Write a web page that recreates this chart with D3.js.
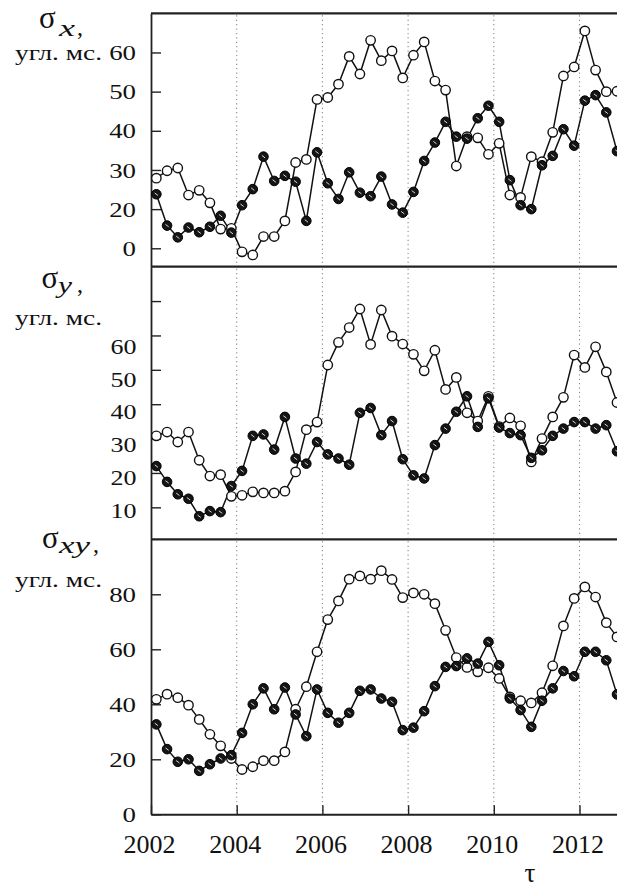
<!DOCTYPE html>
<html>
<head>
<meta charset="utf-8">
<script src="https://cdn.jsdelivr.net/npm/d3@7"></script>
<style>
  body { margin: 0; background: #fff; }
  svg { display: block; }
  svg text { font-family: "Liberation Serif", "Times New Roman", serif; fill: #111; }
</style>
</head>
<body>
<svg id="chart" width="617" height="889"></svg>
<script>
// Quarterly epochs (decimal years, middle of each quarter)
const quarters = [
  2002.125, 2002.375, 2002.625, 2002.875, 2003.125, 2003.375, 2003.625, 2003.875,
  2004.125, 2004.375, 2004.625, 2004.875, 2005.125, 2005.375, 2005.625, 2005.875,
  2006.125, 2006.375, 2006.625, 2006.875, 2007.125, 2007.375, 2007.625, 2007.875,
  2008.125, 2008.375, 2008.625, 2008.875, 2009.125, 2009.375, 2009.625, 2009.875,
  2010.125, 2010.375, 2010.625, 2010.875, 2011.125, 2011.375, 2011.625, 2011.875,
  2012.125, 2012.375, 2012.625, 2012.875
];

// sigma_x, mas
const sigmaXOpen = [
  27.9, 29.8, 30.5, 23.6, 24.8, 21.6, 14.9, 15.1, 9.1, 8.3, 13.0, 13.0, 17.0, 31.9, 32.7, 48.0,
  48.5, 51.9, 59.0, 54.5, 63.1, 57.9, 60.4, 53.5, 59.3, 62.7, 52.7, 50.4, 31.0, 38.5, 38.2, 34.0,
  36.8, 23.6, 23.0, 33.4, 32.1, 39.6, 54.0, 56.3, 65.5, 55.5, 50.0, 50.1
];
const sigmaXFilled = [
  23.8, 15.8, 12.8, 15.3, 14.1, 15.5, 18.3, 14.0, 21.0, 25.1, 33.4, 27.2, 28.5, 27.0, 17.0, 34.5,
  26.6, 22.6, 29.4, 24.2, 23.3, 28.3, 21.2, 19.1, 24.4, 32.3, 37.0, 42.3, 38.5, 38.0, 43.2, 46.4,
  42.3, 27.4, 21.0, 20.0, 31.2, 33.6, 40.4, 36.2, 47.7, 49.1, 44.7, 34.8
];

// sigma_y, mas
const sigmaYOpen = [
  30.8, 31.9, 29.0, 31.9, 23.7, 19.1, 19.5, 13.2, 13.5, 14.5, 14.2, 14.2, 14.7, 20.3, 32.6, 34.8,
  51.4, 58.0, 62.3, 67.7, 57.4, 67.4, 59.8, 57.5, 54.5, 49.7, 55.7, 44.3, 47.8, 37.5, 35.1, 42.3,
  33.5, 36.0, 33.7, 23.2, 30.0, 36.3, 42.0, 54.3, 50.7, 56.7, 49.4, 40.5
];
const sigmaYFilled = [
  22.0, 17.4, 13.8, 12.5, 7.4, 8.9, 8.6, 16.2, 20.6, 30.8, 31.2, 26.8, 36.3, 24.2, 22.7, 29.0,
  25.4, 24.2, 22.4, 37.5, 38.9, 31.0, 35.1, 24.0, 19.3, 18.4, 28.1, 32.9, 37.8, 42.3, 33.4, 41.7,
  33.2, 31.6, 31.0, 24.4, 26.6, 30.8, 32.9, 34.8, 34.8, 32.9, 33.9, 26.3
];

// sigma_xy, mas
const sigmaXYOpen = [
  41.8, 43.7, 42.4, 39.7, 34.5, 29.1, 24.9, 20.3, 16.3, 17.3, 19.5, 19.5, 22.7, 38.2, 46.4, 59.1,
  70.8, 77.6, 85.5, 86.7, 85.5, 88.6, 85.4, 78.8, 80.5, 80.0, 76.6, 66.9, 57.0, 53.4, 51.8, 53.3,
  49.4, 42.7, 41.3, 40.5, 44.2, 54.0, 68.5, 78.5, 82.7, 79.0, 69.7, 64.5
];
const sigmaXYFilled = [
  32.7, 23.7, 19.1, 20.0, 15.8, 18.2, 20.3, 21.5, 29.6, 40.0, 45.8, 38.2, 46.1, 36.3, 28.4, 45.4,
  36.9, 33.3, 36.9, 44.9, 45.4, 42.1, 40.9, 30.6, 31.5, 37.5, 46.6, 53.6, 53.9, 56.7, 54.8, 62.7,
  54.2, 42.1, 37.9, 31.8, 41.3, 45.8, 52.1, 50.2, 59.1, 59.1, 56.0, 43.6
];

// Axis ticks and their printed labels
const yearTicks = [2002, 2004, 2006, 2008, 2010, 2012];
const gridYears = [2004, 2006, 2008, 2010, 2012];
const ticksX = [10, 20, 30, 40, 50, 60];
const tickLabelsX = ["0", "20", "30", "40", "50", "60"];
const ticksY = [10, 20, 30, 40, 50, 60, 70];
const tickLabelsY = ["10", "20", "30", "40", "50", "60"];
const ticksXY = [0, 20, 40, 60, 80];
const tickLabelsXY = ["0", "20", "40", "60", "80"];
const unitLabel = "угл. мс.";
const timeLabel = "τ";

const SERIF = '"Liberation Serif", "Times New Roman", serif';

const svg = d3.select("#chart");
const left = 151;
const x = d3.scaleLinear().domain([2002, 2013.6]).range([left, left + 11.6 * 42.85]);

const panels = [
  { open: sigmaXOpen, filled: sigmaXFilled, domain: [5.3, 70], top: 13.3, bottom: 266.7,
    ticks: ticksX, labels: tickLabelsX, sub: "x", fs: 22,
    title: { sx: 39, sy: 28, subX: 59, subY: 36, subW: 16, commaX: 77, unitY: 60 } },
  { open: sigmaYOpen, filled: sigmaYFilled, domain: [0.7, 80], top: 266.7, bottom: 539.3,
    ticks: ticksY, labels: tickLabelsY, sub: "y", fs: 20, shiftLabels: true,
    title: { sx: 41.5, sy: 288, subX: 58, subY: 293, subW: 14, commaX: 77, unitY: 325 } },
  { open: sigmaXYOpen, filled: sigmaXYFilled, domain: [0, 100], top: 539.3, bottom: 814.3,
    ticks: ticksXY, labels: tickLabelsXY, sub: "xy", fs: 22, bottomAxis: true,
    title: { sx: 42, sy: 548, subX: 59, subY: 553, subW: 31, commaX: 93, unitY: 587 } }
];

const W = 617;

function serifText(sel, size) {
  return sel.attr("font-family", null).style("font-family", SERIF).style("font-size", size + "px");
}

panels.forEach((p, pi) => {
  const y = d3.scaleLinear().domain(p.domain).range([p.bottom, p.top]);
  const g = svg.append("g");

  // dotted year guides
  g.selectAll(".grid").data(gridYears).join("line")
    .attr("x1", d => x(d)).attr("x2", d => x(d))
    .attr("y1", p.top + 2).attr("y2", p.bottom - 2)
    .attr("stroke", "#8a8a8a").attr("stroke-width", 1.1)
    .attr("stroke-dasharray", "1.2,3.2");

  // panel frame: top edge for the first panel, separator below each
  if (pi === 0) {
    g.append("line").attr("x1", left).attr("x2", W + 20)
      .attr("y1", p.top).attr("y2", p.top)
      .attr("stroke", "#222").attr("stroke-width", 2.2);
  }
  if (!p.bottomAxis) {
    g.append("line").attr("x1", left).attr("x2", W + 20)
      .attr("y1", p.bottom).attr("y2", p.bottom)
      .attr("stroke", "#222").attr("stroke-width", 2.2);
  }

  // left axis with inward ticks
  const yAxis = d3.axisLeft(y).tickValues(p.ticks).tickSize(-10).tickSizeOuter(0).tickPadding(15)
    .tickFormat((d, i) => p.shiftLabels ? "" : p.labels[i]);
  const ga = g.append("g").attr("transform", `translate(${left},0)`).call(yAxis);
  ga.attr("font-family", null);
  ga.select(".domain").attr("stroke", "#222").attr("stroke-width", 1.8);
  ga.selectAll(".tick line").attr("stroke", "#222").attr("stroke-width", 1.4);
  serifText(ga.selectAll(".tick text"), p.fs)
    .attr("x", 0).attr("transform", "translate(-15,0) scale(1.22,1)")
    .style("fill", "#111");

  if (p.shiftLabels) {
    // the number column of this panel sits a little below its tick marks
    const labelY = d3.scaleLinear().domain([10, 60]).range([y(10) + 3.4, y(60) + 11.7]);
    const gl = g.append("g").attr("transform", `translate(${left},0)`)
      .call(d3.axisLeft(labelY).tickValues([10, 20, 30, 40, 50, 60]).tickSize(0).tickPadding(15)
        .tickFormat((d, i) => p.labels[i]));
    gl.attr("font-family", null);
    gl.select(".domain").remove();
    serifText(gl.selectAll(".tick text"), p.fs)
      .attr("x", 0).attr("transform", "translate(-14.5,0) scale(1.3,1)")
      .style("fill", "#111");
  }

  if (p.bottomAxis) {
    const xAxis = d3.axisBottom(x).tickValues(yearTicks).tickSize(-9).tickSizeOuter(0)
      .tickPadding(20).tickFormat(d3.format("d"));
    const gx = g.append("g").attr("transform", `translate(0,${p.bottom})`).call(xAxis);
    gx.attr("font-family", null);
    gx.select(".domain").attr("stroke", "#222").attr("stroke-width", 2);
    gx.selectAll(".tick line").attr("stroke", "#222").attr("stroke-width", 1.4);
    serifText(gx.selectAll(".tick text"), 26).attr("dx", -2).style("fill", "#111");
  }

  // series lines
  const line = d3.line().x((d, i) => x(quarters[i])).y(d => y(d));
  [p.open, p.filled].forEach(series => {
    g.append("path").datum(series).attr("d", line)
      .attr("fill", "none").attr("stroke", "#111").attr("stroke-width", 1.5)
      .attr("stroke-linejoin", "round");
  });

  // open markers
  g.selectAll(".open").data(p.open).join("circle")
    .attr("cx", (d, i) => x(quarters[i])).attr("cy", d => y(d))
    .attr("r", 4.7).attr("fill", "#fff").attr("stroke", "#111").attr("stroke-width", 1.4);

  // filled markers with a small light centre
  const fm = g.selectAll(".filled").data(p.filled).join("g")
    .attr("transform", (d, i) => `translate(${x(quarters[i])},${y(d)})`);
  fm.append("circle").attr("r", 4.8).attr("fill", "#151515").attr("stroke", "#000").attr("stroke-width", 1);
  fm.append("line").attr("x1", -1.6).attr("y1", -1.2).attr("x2", 1.6).attr("y2", 1.2)
    .attr("stroke", "#fff").attr("stroke-width", 1).attr("opacity", 0.85);

  // panel title: sigma with italic subscript, then the unit
  const t = p.title;
  serifText(svg.append("text"), 31).attr("x", t.sx).attr("y", t.sy).text("σ");
  serifText(svg.append("text"), 24).attr("x", t.subX).attr("y", t.subY)
    .attr("textLength", t.subW).attr("lengthAdjust", "spacingAndGlyphs")
    .style("font-style", "italic").text(p.sub);
  serifText(svg.append("text"), 24).attr("x", t.commaX).attr("y", t.subY - 1).text(",");
  serifText(svg.append("text"), 20.5).attr("x", 15).attr("y", t.unitY)
    .attr("textLength", 87).attr("lengthAdjust", "spacingAndGlyphs")
    .text(unitLabel);
});

// time axis symbol
serifText(svg.append("text"), 27).attr("x", 530).attr("y", 882).attr("text-anchor", "middle")
  .text(timeLabel);
</script>
</body>
</html>
